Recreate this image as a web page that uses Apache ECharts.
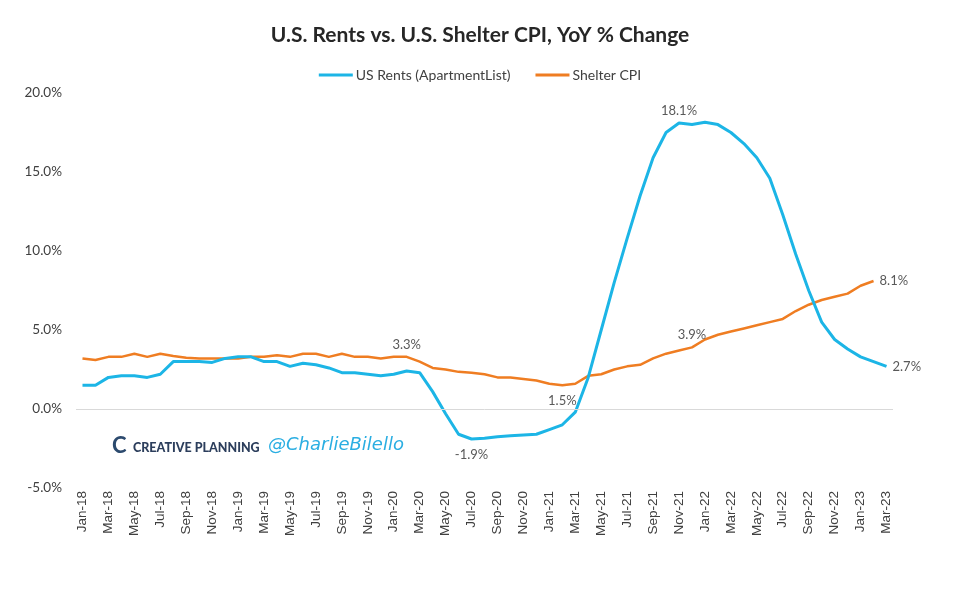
<!DOCTYPE html>
<html>
<head>
<meta charset="utf-8">
<script src="https://cdn.jsdelivr.net/npm/echarts@6/dist/echarts.min.js"></script>
<style>
  html, body { margin: 0; padding: 0; background: #fff; }
  #chart { width: 960px; height: 594px; }
</style>
</head>
<body>
<div id="chart"></div>
<script>
// categorias mensuales
const months = [
  'Jan-18','Feb-18','Mar-18','Apr-18','May-18','Jun-18','Jul-18','Aug-18','Sep-18','Oct-18','Nov-18','Dec-18',
  'Jan-19','Feb-19','Mar-19','Apr-19','May-19','Jun-19','Jul-19','Aug-19','Sep-19','Oct-19','Nov-19','Dec-19',
  'Jan-20','Feb-20','Mar-20','Apr-20','May-20','Jun-20','Jul-20','Aug-20','Sep-20','Oct-20','Nov-20','Dec-20',
  'Jan-21','Feb-21','Mar-21','Apr-21','May-21','Jun-21','Jul-21','Aug-21','Sep-21','Oct-21','Nov-21','Dec-21',
  'Jan-22','Feb-22','Mar-22','Apr-22','May-22','Jun-22','Jul-22','Aug-22','Sep-22','Oct-22','Nov-22','Dec-22',
  'Jan-23','Feb-23','Mar-23'
];

// US Rents (ApartmentList), YoY %
const rents = [
  1.5, 1.5, 2.0, 2.1, 2.1, 2.0, 2.2, 3.0, 3.0, 3.0, 2.95, 3.2,
  3.3, 3.3, 3.0, 3.0, 2.7, 2.9, 2.8, 2.6, 2.3, 2.3, 2.2, 2.1,
  2.2, 2.4, 2.3, 1.1, -0.3, -1.6, -1.9, -1.85, -1.75, -1.7, -1.65, -1.6,
  -1.3, -1.0, -0.2, 2.0, 5.0, 8.0, 10.8, 13.5, 15.9, 17.5, 18.1, 18.0,
  18.15, 18.0, 17.5, 16.8, 15.9, 14.6, 12.3, 9.8, 7.5, 5.5, 4.4, 3.8,
  3.3, 3.0, 2.7
];

// Shelter CPI, YoY % (hasta Feb-23)
const shelter = [
  3.2, 3.1, 3.3, 3.3, 3.5, 3.3, 3.5, 3.35, 3.25, 3.2, 3.2, 3.2,
  3.2, 3.3, 3.3, 3.4, 3.3, 3.5, 3.5, 3.3, 3.5, 3.3, 3.3, 3.2,
  3.3, 3.3, 3.0, 2.6, 2.5, 2.35, 2.3, 2.2, 2.0, 2.0, 1.9, 1.8,
  1.6, 1.5, 1.6, 2.1, 2.2, 2.5, 2.7, 2.8, 3.2, 3.5, 3.7, 3.9,
  4.4, 4.7, 4.9, 5.1, 5.3, 5.5, 5.7, 6.2, 6.6, 6.9, 7.1, 7.3,
  7.8, 8.1, null
];

// etiquetas de datos: indice -> posicion
const rentsLabels = { 30: 'bottom', 46: 'top', 62: 'right' };
const shelterLabels = { 25: 'top', 37: 'bottom', 47: 'top', 61: 'right' };

const blue = '#1cb5e6';
const orange = '#ef7d22';

const withLabels = (values, labels) => values.map((v, i) => {
  if (labels[i] === undefined || v === null) return v;
  return {
    value: v,
    label: {
      show: true,
      position: labels[i],
      distance: labels[i] === 'bottom' ? 9 : 6,
      color: '#595959',
      fontSize: 13,
      fontFamily: 'Lato',
      formatter: (p) => p.value.toFixed(1) + '%'
    }
  };
});

const chart = echarts.init(document.getElementById('chart'));

const option = {
  animation: false,
  title: {
    text: 'U.S. Rents vs. U.S. Shelter CPI, YoY % Change',
    left: 'center',
    top: 20,
    textStyle: { fontFamily: 'Lato', fontWeight: 'bold', fontSize: 21, color: '#262626' }
  },
  legend: {
    top: 63,
    left: 'center',
    itemWidth: 34,
    itemHeight: 3,
    itemGap: 25,
    icon: 'rect',
    textStyle: { fontFamily: 'Lato', fontSize: 14, color: '#404040', padding: [0, 0, 0, -2] },
    data: ['US Rents (ApartmentList)', 'Shelter CPI']
  },
  grid: { left: 76, right: 67, top: 93, bottom: 106 },
  xAxis: {
    type: 'category',
    data: months,
    boundaryGap: true,
    axisLine: { show: false },
    axisTick: { show: false },
    axisLabel: {
      interval: 1,
      rotate: 90,
      margin: 3,
      fontFamily: 'Liberation Sans',
      fontSize: 13.5,
      color: '#404040'
    }
  },
  yAxis: {
    type: 'value',
    min: -5,
    max: 20,
    interval: 5,
    splitLine: { show: false },
    axisLine: { show: false },
    axisTick: { show: false },
    axisLabel: {
      margin: 14,
      fontFamily: 'Lato',
      fontSize: 13.5,
      color: '#404040',
      formatter: (v) => v.toFixed(1) + '%'
    }
  },
  series: [
    {
      name: 'US Rents (ApartmentList)',
      type: 'line',
      data: withLabels(rents, rentsLabels),
      showSymbol: true,
      showAllSymbol: true,
      symbol: 'circle',
      symbolSize: 0,
      lineStyle: { color: blue, width: 3 },
      itemStyle: { color: blue },
      z: 3,
      markLine: {
        silent: true,
        symbol: 'none',
        label: { show: false },
        lineStyle: { color: '#d9d9d9', width: 1, type: 'solid' },
        data: [{ yAxis: 0 }]
      }
    },
    {
      name: 'Shelter CPI',
      type: 'line',
      data: withLabels(shelter, shelterLabels),
      showSymbol: true,
      showAllSymbol: true,
      symbol: 'circle',
      symbolSize: 0,
      lineStyle: { color: orange, width: 2.5 },
      itemStyle: { color: orange },
      z: 2
    }
  ],
  graphic: [
    {
      // marca de agua
      type: 'text',
      left: 112,
      top: 435,
      style: { text: 'C', fontFamily: 'Lato', fontWeight: 'bold', fontSize: 22, fill: '#2c4a6e' }
    },
    {
      type: 'text',
      left: 133,
      top: 441,
      style: { text: 'CREATIVE PLANNING', fontFamily: 'Lato', fontWeight: 900, fontSize: 12.5, fill: '#2c3e5c' }
    },
    {
      type: 'text',
      left: 268,
      top: 436,
      style: { text: '@CharlieBilello', fontFamily: 'DejaVu Sans', fontStyle: 'italic', fontSize: 18, fill: '#2aaee2' }
    }
  ]
};

chart.setOption(option);
</script>
</body>
</html>
